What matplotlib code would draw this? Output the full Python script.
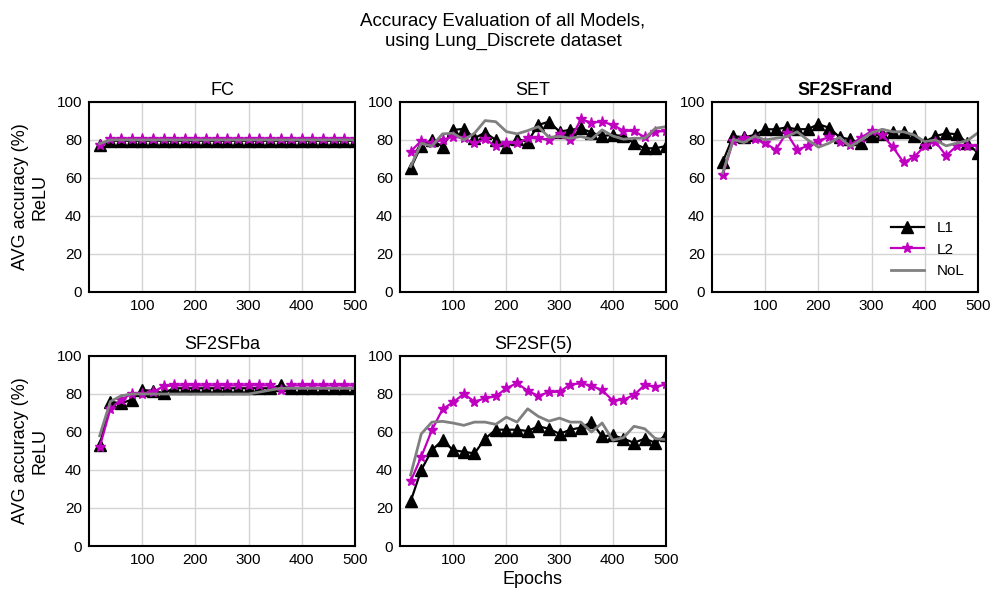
import matplotlib.pyplot as plt

plt.rcParams["font.family"] = ["Liberation Sans", "DejaVu Sans"]

epochs = list(range(20, 501, 20))

# FC
fc_l1 = [77.5] + [79.5] * 24
fc_l2 = [77.5] + [80.5] * 24
fc_nol = [78.0] + [80.0] * 24

# SET
set_l1 = [65, 77, 80, 76.5, 85.3, 85.8, 80.9, 83.9, 80, 76.1, 80.4, 79.1, 87.9, 89.6,
          84.4, 85.3, 86.1, 83.9, 82.1, 82.6, 82.1, 78.2, 75.6, 75.6, 76.8]
set_l2 = [73.9, 79.6, 78.6, 80, 81.8, 80.9, 78.2, 80.4, 76.8, 78.6, 78.2, 80.9, 80.9, 80,
          83.2, 80, 90.9, 89.1, 89.6, 87.9, 84.9, 84.7, 81.4, 84.4, 84.7]
set_nol = [66, 78.2, 76.8, 83.2, 83.5, 80, 83.5, 90.2, 89.6, 84.4, 83.2, 84.9, 87, 81.4,
           81.8, 80.9, 81.8, 80.4, 85.3, 82.1, 80.4, 80.9, 80.9, 86.1, 87]

# SF2SFrand
rand_l1 = [68.5, 82, 81.4, 82.6, 85.6, 85.6, 86.6, 85.6, 85.7, 88.3, 86.4, 81.4, 80.3,
           78.3, 82, 83, 84, 84.3, 82, 79.1, 82, 83.5, 83, 78.3, 73]
rand_l2 = [61.4, 79.7, 80.9, 80.5, 78.3, 74.8, 83.8, 74.8, 76.9, 79.7, 81.4, 79.1, 77.4,
           81.2, 84.7, 82.6, 76.2, 68.2, 71, 76.9, 79.1, 71.7, 76.9, 76.9, 76.9]
rand_nol = [62.6, 80.3, 78.6, 82, 80, 80.9, 81.7, 84.3, 80, 76.2, 78.3, 81.4, 76.5, 80,
            83.8, 85.6, 84.3, 84.3, 82.6, 79.1, 80, 76.9, 78.3, 79.7, 83.8]

# SF2SFba
ba_l1 = [53, 76, 75, 77, 82, 81.7, 80.5] + [83] * 10 + [84.5] + [83] * 7
ba_l2 = [52, 72, 77, 80, 80, 81, 84] + [84.5] * 10 + [82] + [84.5] * 7
ba_nol = [58, 76, 79] + [80] * 12 + [81, 82, 83] + [83] * 7

# SF2SF(5)
sf5_l1 = [23.5, 40, 50.4, 55.7, 50.4, 49.6, 48.7, 56.5, 61.2, 61.2, 61.2, 60.5, 63, 61.7,
          59, 61.2, 62.3, 65.2, 57.7, 58.3, 56.5, 54.3, 56.5, 54.3, 58.3]
sf5_l2 = [34, 47, 61, 72, 75.7, 80, 76, 77.7, 78.8, 83, 85.7, 81.7, 79, 81, 81.2, 84.9,
          85.6, 84.3, 82, 76.5, 77, 79.5, 84.7, 83.8, 85]
sf5_nol = [37.4, 59, 65.2, 65.6, 64.7, 63.5, 65.2, 65.2, 64, 67.8, 65.2, 72.2, 68.2, 65.7,
           67.3, 65.2, 65.2, 60, 64.7, 55.7, 57, 63, 61.7, 56.5, 56]

panels = [
    ("FC", fc_l1, fc_l2, fc_nol),
    ("SET", set_l1, set_l2, set_nol),
    ("SF2SFrand", rand_l1, rand_l2, rand_nol),
    ("SF2SFba", ba_l1, ba_l2, ba_nol),
    ("SF2SF(5)", sf5_l1, sf5_l2, sf5_nol),
]

fig = plt.figure(figsize=(10.06, 5.92), dpi=100)
lefts = [0.0885, 0.3976, 0.7078]
bottoms = [0.5068, 0.0777]
w, h = 0.2644, 0.321

for i, (name, l1, l2, nol) in enumerate(panels):
    row, col = divmod(i, 3)
    ax = fig.add_axes([lefts[col], bottoms[row], w, h])
    ax.plot(epochs, l1, color="black", marker="^", markersize=9, linewidth=1.6, label="L1")
    ax.plot(epochs, l2, color="#c000c0", marker="*", markersize=8, linewidth=1.6, label="L2")
    ax.plot(epochs, nol, color="#808080", linewidth=2, label="NoL")
    ax.set_xlim(0, 500)
    ax.set_ylim(0, 100)
    ax.set_xticks([100, 200, 300, 400, 500])
    ax.set_yticks([0, 20, 40, 60, 80, 100])
    ax.tick_params(length=0, labelsize=11, pad=5)
    ax.grid(True, color="#d3d3d3", linewidth=1)
    ax.set_axisbelow(True)
    for s in ax.spines.values():
        s.set_linewidth(1.5)
    ax.set_title(name, fontsize=13, fontweight="bold" if name == "SF2SFrand" else "normal", pad=5)
    if col == 0:
        ax.set_ylabel("AVG accuracy (%)\nReLU", fontsize=13, labelpad=6)
    if name == "SF2SF(5)":
        ax.set_xlabel("Epochs", fontsize=13, labelpad=3)
    if name == "SF2SFrand":
        ax.legend(loc="lower right", frameon=False, fontsize=11, handlelength=2.2,
                  bbox_to_anchor=(1.0, 0.0))

fig.suptitle("Accuracy Evaluation of all Models,\nusing Lung_Discrete dataset",
             fontsize=13.5, y=0.978)

fig.savefig("out.png", dpi=100)
